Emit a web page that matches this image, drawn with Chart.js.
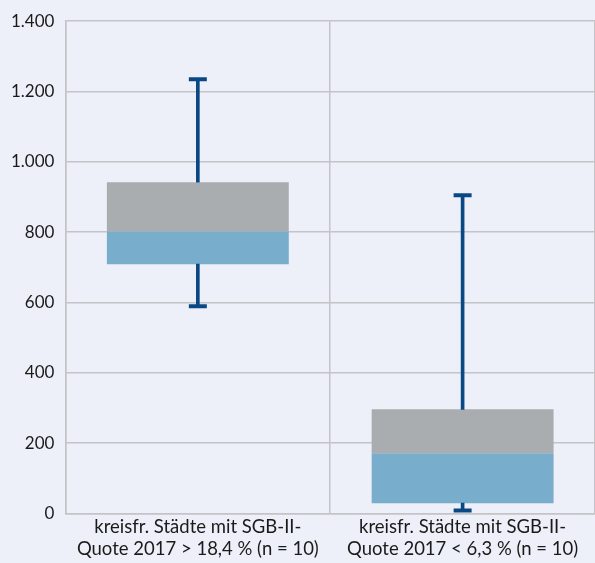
<!DOCTYPE html>
<html lang="de">
<head>
<meta charset="utf-8">
<title>Boxplot</title>
<script src="https://cdn.jsdelivr.net/npm/chart.js@4/dist/chart.umd.min.js"></script>
<style>
  html, body { margin: 0; padding: 0; background: #edf0f8; }
  #wrap { width: 595px; height: 563px; }
</style>
</head>
<body>
<div id="wrap"><canvas id="boxChart"></canvas></div>
<script>
var categories = [
    ['kreisfr. Städte mit SGB-II-', 'Quote 2017 > 18,4 % (n = 10)'],
    ['kreisfr. Städte mit SGB-II-', 'Quote 2017 < 6,3 % (n = 10)']
];
var minValues = [589, 8];
var q1Values = [709, 29];
var medianValues = [802, 171];
var q3Values = [942, 296];
var maxValues = [1235, 905];
var yTicks = [0, 200, 400, 600, 800, 1000, 1200, 1400];

var fmt = new Intl.NumberFormat('de-DE');
var whiskerColor = '#0a4885';

function pairs(a, b) {
    return a.map(function (v, i) { return [v, b[i]]; });
}

new Chart(document.getElementById('boxChart'), {
    type: 'bar',
    data: {
        labels: categories,
        datasets: [
            // lower whisker
            {
                data: pairs(minValues, q1Values),
                backgroundColor: whiskerColor,
                barThickness: 3,
                grouped: false
            },
            // upper whisker
            {
                data: pairs(q3Values, maxValues),
                backgroundColor: whiskerColor,
                barThickness: 3,
                grouped: false
            },
            // Q1 - median
            {
                data: pairs(q1Values, medianValues),
                backgroundColor: '#78aecb',
                grouped: false
            },
            // median - Q3
            {
                data: pairs(medianValues, q3Values),
                backgroundColor: '#aaadb0',
                grouped: false
            },
            // whisker caps
            {
                type: 'line',
                data: minValues,
                showLine: false,
                pointStyle: 'line',
                pointRadius: 9,
                borderColor: whiskerColor,
                borderWidth: 4
            },
            {
                type: 'line',
                data: maxValues,
                showLine: false,
                pointStyle: 'line',
                pointRadius: 9,
                borderColor: whiskerColor,
                borderWidth: 4
            }
        ]
    },
    options: {
        responsive: true,
        maintainAspectRatio: false,
        animation: false,
        categoryPercentage: 1,
        barPercentage: 0.687,
        layout: { autoPadding: false, padding: { top: 19, right: 0, bottom: 0, left: 0 } },
        plugins: {
            legend: { display: false },
            tooltip: { enabled: false }
        },
        scales: {
            x: {
                offset: true,
                afterFit: function (scale) {
                    scale.paddingLeft = 0;
                    scale.paddingRight = 0;
                },
                grid: {
                    offset: true,
                    color: '#c3c4c8',
                    lineWidth: 1.5,
                    drawTicks: false
                },
                border: { color: '#c3c4c8', width: 1.5 },
                ticks: {
                    color: '#1a1a1a',
                    padding: 2.6,
                    maxRotation: 0,
                    autoSkip: false,
                    font: { family: 'Lato', size: 18.5, lineHeight: 1.2 }
                }
            },
            y: {
                min: 0,
                max: 1400,
                afterBuildTicks: function (axis) {
                    axis.ticks = yTicks.map(function (v) { return { value: v }; });
                },
                grid: {
                    color: '#c3c4c8',
                    lineWidth: 1.5,
                    drawTicks: false
                },
                border: { color: '#c3c4c8', width: 1.5 },
                ticks: {
                    color: '#1a1a1a',
                    padding: 11,
                    font: { family: 'Lato', size: 17 },
                    callback: function (v) { return fmt.format(v); }
                }
            }
        }
    }
});
</script>
</body>
</html>
